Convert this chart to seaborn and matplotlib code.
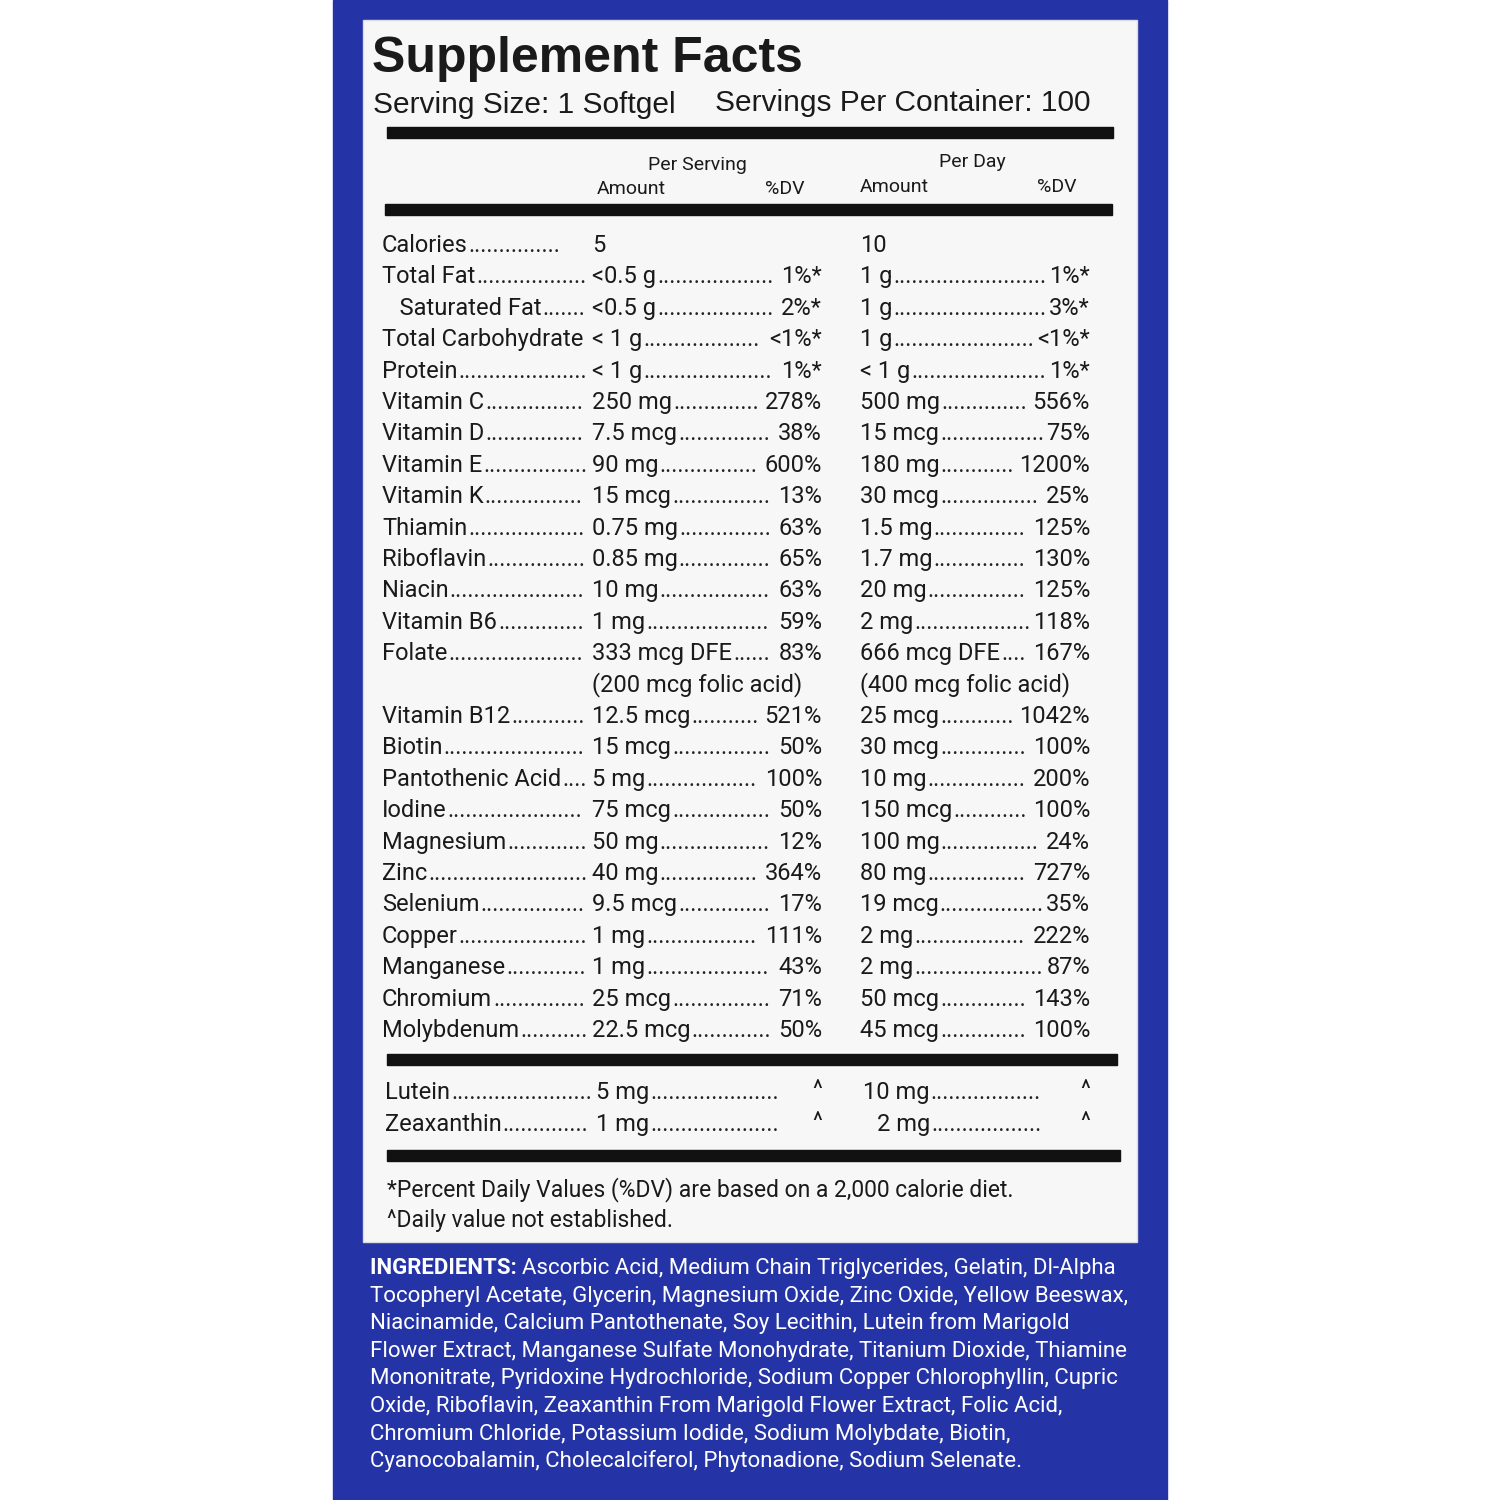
import matplotlib
matplotlib.use("Agg")
import matplotlib.pyplot as plt
import seaborn as sns
from matplotlib.patches import Rectangle
from matplotlib import font_manager

sns.set_theme(style="white")
names = {f.name for f in font_manager.fontManager.ttflist}
NARROW = 'Liberation Sans Narrow' if 'Liberation Sans Narrow' in names else 'Roboto'
plt.rcParams['font.family'] = [NARROW, 'DejaVu Sans']

nutrients = ["Calories", "Total Fat", "   Saturated Fat", "Total Carbohydrate", "Protein",
             "Vitamin C", "Vitamin D", "Vitamin E", "Vitamin K", "Thiamin", "Riboflavin",
             "Niacin", "Vitamin B6", "Folate", "", "Vitamin B12", "Biotin", "Pantothenic Acid",
             "Iodine", "Magnesium", "Zinc", "Selenium", "Copper", "Manganese", "Chromium",
             "Molybdenum"]
serv_amt = ["5", "<0.5 g", "<0.5 g", "< 1 g", "< 1 g", "250 mg", "7.5 mcg", "90 mg", "15 mcg",
            "0.75 mg", "0.85 mg", "10 mg", "1 mg", "333 mcg DFE", "(200 mcg folic acid)",
            "12.5 mcg", "15 mcg", "5 mg", "75 mcg", "50 mg", "40 mg", "9.5 mcg", "1 mg",
            "1 mg", "25 mcg", "22.5 mcg"]
serv_dv = ["", "1%*", "2%*", "<1%*", "1%*", "278%", "38%", "600%", "13%", "63%", "65%", "63%",
           "59%", "83%", "", "521%", "50%", "100%", "50%", "12%", "364%", "17%", "111%", "43%",
           "71%", "50%"]
day_amt = ["10", "1 g", "1 g", "1 g", "< 1 g", "500 mg", "15 mcg", "180 mg", "30 mcg", "1.5 mg",
           "1.7 mg", "20 mg", "2 mg", "666 mcg DFE", "(400 mcg folic acid)", "25 mcg", "30 mcg",
           "10 mg", "150 mcg", "100 mg", "80 mg", "19 mcg", "2 mg", "2 mg", "50 mcg", "45 mcg"]
day_dv = ["", "1%*", "3%*", "<1%*", "1%*", "556%", "75%", "1200%", "25%", "125%", "130%", "125%",
          "118%", "167%", "", "1042%", "100%", "200%", "100%", "24%", "727%", "35%", "222%", "87%",
          "143%", "100%"]
extra_names = ["Lutein", "Zeaxanthin"]
extra_serv = ["5 mg", "1 mg"]
extra_day = ["10 mg", "2 mg"]

ingredients = [
    ("INGREDIENTS: ", "Ascorbic Acid, Medium Chain Triglycerides, Gelatin, Dl-Alpha"),
    ("", "Tocopheryl Acetate, Glycerin, Magnesium Oxide, Zinc Oxide, Yellow Beeswax,"),
    ("", "Niacinamide, Calcium Pantothenate, Soy Lecithin, Lutein from Marigold"),
    ("", "Flower Extract, Manganese Sulfate Monohydrate, Titanium Dioxide, Thiamine"),
    ("", "Mononitrate, Pyridoxine Hydrochloride, Sodium Copper Chlorophyllin, Cupric"),
    ("", "Oxide, Riboflavin, Zeaxanthin From Marigold Flower Extract, Folic Acid,"),
    ("", "Chromium Chloride, Potassium Iodide, Sodium Molybdate, Biotin,"),
    ("", "Cyanocobalamin, Cholecalciferol, Phytonadione, Sodium Selenate."),
]

fig = plt.figure(figsize=(15, 15), dpi=100)
ax = fig.add_axes([0, 0, 1, 1])
ax.set_xlim(0, 1500); ax.set_ylim(1500, 0); ax.axis('off')
ax.add_patch(Rectangle((333, 0), 834, 1500, color='#2434a6', zorder=0))
ax.add_patch(Rectangle((363, 20), 774, 1222, facecolor='#f7f7f7', edgecolor='#ddd', zorder=1))
fig.canvas.draw()
rend = fig.canvas.get_renderer()

def w(t):
    return t.get_window_extent(renderer=rend).width

def leader(x0, y, x1, size=17):
    d = ax.text(0, 0, ".", fontsize=size)
    dw = w(d); d.remove()
    n = int(max(0, (x1 - x0)) / dw)
    if n > 0:
        ax.text(x0, y, "." * n, fontsize=size, va='baseline', zorder=3, color='#222')

def txt(x, y, s, size=17, ha='left', **kw):
    return ax.text(x, y, s, fontsize=size, ha=ha, va='baseline',
                   color=kw.pop('color', '#1a1a1a'), zorder=3, **kw)

LS = ['Liberation Sans', 'DejaVu Sans']
txt(372, 72, "Supplement Facts", size=36, fontweight='bold', family=LS)
txt(373, 113, "Serving Size: 1 Softgel", size=21.5, family=LS)
txt(715, 111, "Servings Per Container: 100", size=21.5, family=LS)
for y, x0, x1 in [(133, 387, 1113), (210, 385, 1112), (1060, 387, 1117), (1156, 387, 1120)]:
    ax.add_patch(Rectangle((x0, y - 6), x1 - x0, 11, color='#111', zorder=2))
txt(697, 170, "Per Serving", size=14, ha='center')
txt(597, 194, "Amount", size=14)
txt(805, 194, "%DV", size=14, ha='right')
txt(972, 167, "Per Day", size=14, ha='center')
txt(860, 192, "Amount", size=14)
txt(1077, 192, "%DV", size=14, ha='right')

y0, dy = 252, 31.4
for i in range(len(nutrients)):
    y = y0 + i * dy
    nm = nutrients[i]
    if nm:
        t = txt(382, y, nm)
        leader(382 + w(t) + 1, y, 588 if i else 565)
    t = txt(592, y, serv_amt[i])
    if serv_dv[i]:
        dvt = txt(822, y, serv_dv[i], ha='right')
        leader(592 + w(t) + 1, y, 822 - w(dvt) - 4)
    t = txt(860, y, day_amt[i])
    if day_dv[i]:
        dvt = txt(1090, y, day_dv[i], ha='right')
        leader(860 + w(t) + 1, y, 1090 - w(dvt) - 2)

for j in range(len(extra_names)):
    y = 1099 + j * 32
    t = txt(385, y, extra_names[j])
    leader(385 + w(t) + 1, y, 594)
    t = txt(596, y, extra_serv[j]); leader(596 + w(t) + 1, y, 780)
    txt(817, y - 2, "^", ha='center')
    x = 863 if j == 0 else 877
    t = txt(x, y, extra_day[j]); leader(x + w(t) + 1, y, 1045)
    txt(1085, y - 2, "^", ha='center')

txt(387, 1196, "*Percent Daily Values (%DV) are based on a 2,000 calorie diet.", size=16.5)
txt(387, 1227, "^Daily value not established.", size=16.5)

for k, (b, rest) in enumerate(ingredients):
    y = 1274 + k * 27.6
    x = 370
    if b:
        t = txt(x, y, b, color='white', fontweight='bold', size=16)
        x += w(t)
    txt(x, y, rest, color='white', size=16)

fig.savefig("out.png", dpi=100, facecolor='white')
